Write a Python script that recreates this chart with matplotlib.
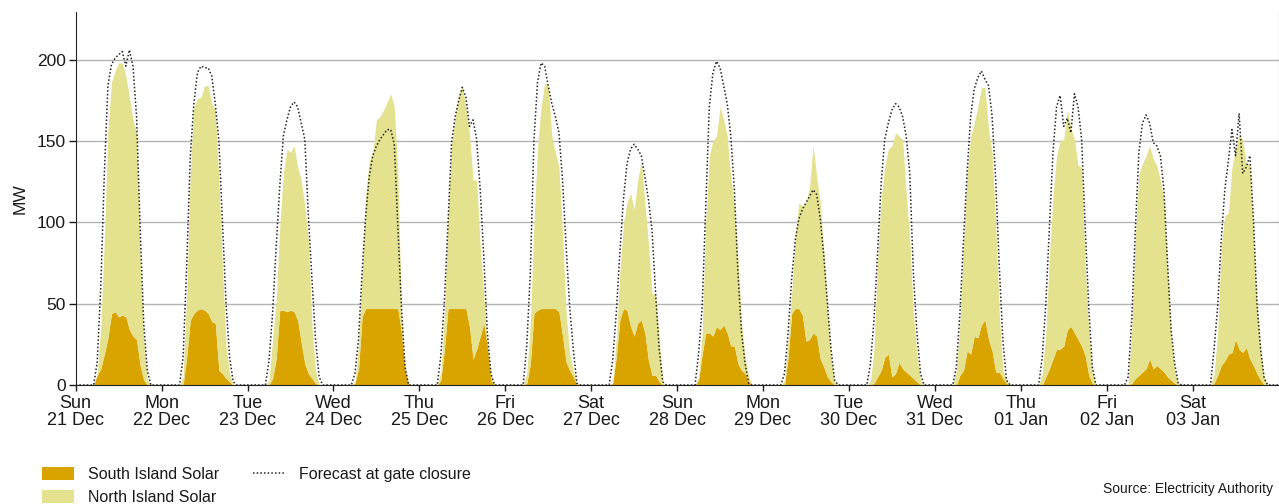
import matplotlib
matplotlib.use("Agg")
import matplotlib.pyplot as plt
import matplotlib.dates as mdates
import pandas as pd

plt.rcParams["font.family"] = ["Liberation Sans", "DejaVu Sans"]

# Solar generation, hourly values from 05:00 to 21:00 each day (MW)
days = pd.date_range("2025-12-21", periods=14, freq="D")
sun_hours = list(range(5, 22))

south_solar = [
    [0, 6, 10, 19, 29, 44, 45, 42, 43, 42, 34, 30, 28, 12, 3, 0, 0],
    [0, 0, 17, 40, 44, 46, 47, 46, 44, 39, 38, 9, 7, 4, 2, 0, 0],
    [0, 0, 4, 16, 46, 46, 45, 46, 45, 40, 26, 13, 7, 4, 1, 0, 0],
    [0, 1, 10, 42, 47, 47, 47, 47, 47, 47, 47, 47, 47, 47, 32, 10, 0],
    [0, 3, 22, 47, 47, 47, 47, 47, 47, 36, 16, 22, 30, 38, 24, 5, 0],
    [0, 1, 13, 44, 46, 47, 47, 47, 47, 47, 45, 30, 14, 9, 5, 0, 0],
    [0, 1, 17, 40, 47, 46, 36, 30, 38, 40, 32, 15, 6, 6, 2, 0, 0],
    [0, 3, 19, 32, 32, 30, 36, 34, 37, 32, 24, 24, 13, 9, 7, 2, 0],
    [0, 0, 17, 44, 47, 47, 43, 27, 28, 32, 30, 16, 11, 5, 2, 0, 0],
    [0, 0, 1, 5, 9, 17, 19, 5, 7, 14, 10, 8, 6, 4, 2, 0, 0],
    [0, 0, 6, 9, 21, 19, 30, 29, 37, 40, 28, 21, 8, 8, 4, 1, 0],
    [0, 0, 5, 10, 16, 22, 22, 24, 34, 36, 32, 28, 24, 18, 6, 1, 0],
    [0, 0, 1, 4, 6, 8, 10, 16, 10, 12, 10, 8, 5, 3, 1, 0, 0],
    [0, 1, 6, 12, 15, 19, 20, 28, 22, 20, 23, 16, 12, 7, 3, 0, 0],
]

# North + South combined (top of the stacked area)
total_solar = [
    [0, 7, 36, 89, 157, 186, 193, 198, 198, 190, 177, 163, 155, 79, 28, 3, 0],
    [0, 5, 56, 130, 171, 176, 177, 184, 184, 173, 169, 126, 73, 24, 7, 0, 0],
    [0, 3, 28, 52, 97, 130, 145, 143, 147, 134, 126, 110, 89, 36, 9, 0, 0],
    [0, 2, 24, 69, 116, 138, 143, 163, 165, 169, 174, 179, 171, 130, 44, 9, 0],
    [0, 8, 44, 106, 148, 165, 179, 184, 171, 155, 126, 126, 85, 56, 22, 2, 0],
    [0, 7, 38, 99, 145, 171, 186, 184, 153, 143, 134, 93, 44, 19, 9, 1, 0],
    [0, 1, 28, 69, 99, 112, 118, 108, 126, 138, 112, 87, 56, 56, 28, 1, 0],
    [0, 5, 32, 100, 141, 150, 153, 171, 163, 153, 128, 110, 77, 38, 17, 5, 0],
    [0, 3, 28, 56, 91, 112, 110, 112, 122, 147, 128, 112, 81, 48, 17, 2, 0],
    [0, 2, 22, 77, 114, 134, 145, 147, 155, 153, 151, 118, 89, 44, 19, 3, 0],
    [0, 9, 38, 87, 130, 153, 161, 171, 183, 183, 157, 143, 99, 44, 9, 3, 0],
    [0, 7, 32, 79, 116, 141, 150, 151, 169, 158, 151, 135, 134, 73, 34, 9, 0],
    [0, 1, 34, 91, 130, 136, 141, 147, 139, 135, 126, 114, 73, 30, 9, 1, 0],
    [0, 7, 32, 85, 104, 106, 134, 145, 154, 151, 136, 136, 93, 48, 22, 5, 0],
]

forecast_gate = [
    [0, 14, 60, 130, 184, 197, 201, 203, 205, 196, 206, 196, 165, 97, 38, 9, 0],
    [0, 17, 73, 140, 173, 192, 196, 195, 195, 190, 173, 150, 100, 50, 17, 2, 0],
    [0, 15, 44, 85, 122, 153, 163, 171, 174, 171, 161, 151, 104, 65, 28, 5, 0],
    [0, 7, 28, 69, 104, 128, 141, 147, 151, 154, 157, 157, 148, 97, 48, 11, 0],
    [0, 18, 52, 99, 149, 165, 175, 183, 177, 159, 163, 151, 120, 79, 32, 7, 0],
    [0, 24, 69, 150, 186, 198, 196, 184, 173, 165, 155, 126, 85, 48, 22, 1, 0],
    [0, 15, 44, 81, 114, 136, 145, 148, 145, 141, 128, 114, 95, 56, 22, 2, 0],
    [0, 19, 48, 110, 171, 192, 199, 195, 184, 173, 153, 120, 69, 32, 13, 1, 0],
    [0, 7, 32, 65, 89, 102, 108, 112, 116, 120, 117, 102, 79, 50, 22, 3, 0],
    [0, 13, 40, 81, 124, 151, 161, 169, 173, 171, 165, 153, 130, 69, 32, 7, 0],
    [0, 11, 44, 89, 130, 165, 182, 189, 193, 188, 184, 165, 126, 73, 28, 3, 0],
    [0, 17, 50, 97, 143, 171, 178, 159, 164, 155, 179, 171, 151, 97, 48, 11, 0],
    [0, 5, 40, 95, 143, 161, 166, 161, 149, 147, 141, 120, 75, 34, 13, 1, 0],
    [0, 22, 48, 89, 120, 138, 157, 141, 167, 130, 134, 141, 102, 50, 22, 4, 0],
]

SOUTH_COLOR = "#D9A300"
NORTH_COLOR = "#E4E28E"
TEXT_COLOR = "#1a1a1a"

timeline = pd.date_range(days[0], days[-1] + pd.Timedelta(hours=24), freq="h")


def hourly_series(rows):
    s = pd.Series(0.0, index=timeline)
    for day, row in zip(days, rows):
        for h, v in zip(sun_hours, row):
            s[day + pd.Timedelta(hours=h)] = v
    return s


south = hourly_series(south_solar)
total = hourly_series(total_solar)
forecast = hourly_series(forecast_gate)

fig = plt.figure(figsize=(12.79, 5.04), dpi=100)
ax = fig.add_axes([75.7 / 1279, 119 / 504, (1278.5 - 75.7) / 1279, (492 - 119) / 504])

x = timeline.to_pydatetime()
h_south = ax.fill_between(x, 0, south.values, color=SOUTH_COLOR, lw=0,
                          label="South Island Solar", zorder=2)
h_north = ax.fill_between(x, south.values, total.values, color=NORTH_COLOR, lw=0,
                          label="North Island Solar", zorder=2)
(h_fc,) = ax.plot(x, forecast.values, color="#222222", lw=1.1,
                  ls=(0, (1, 1.4)), label="Forecast at gate closure", zorder=3)

ax.set_xlim(timeline[0], timeline[-1])
ax.set_ylim(0, 229.3)
ax.set_yticks([0, 50, 100, 150, 200])
ax.yaxis.grid(True, color="#b3b3b3", lw=1.0, zorder=0)
ax.set_axisbelow(True)

# one tick per day, labelled with weekday and date
ax.set_xticks(days.to_pydatetime())
ax.xaxis.set_major_formatter(mdates.DateFormatter("%a\n%d %b"))
ax.tick_params(axis="x", labelsize=13, length=4, width=1, colors=TEXT_COLOR, pad=3)
ax.tick_params(axis="y", labelsize=12.5, length=5, width=1, colors=TEXT_COLOR, pad=2)
for lbl in ax.get_xticklabels():
    lbl.set_linespacing(1.05)

ax.spines["top"].set_visible(False)
ax.spines["left"].set_color("#222222")
ax.spines["bottom"].set_color("#222222")
ax.spines["right"].set_color("#444444")
ax.spines["right"].set_linewidth(0.8)

ax.set_ylabel("MW", fontsize=12.5, color=TEXT_COLOR, labelpad=7)

fig.legend(handles=[h_south, h_north, h_fc], ncol=2, loc="upper left",
           bbox_to_anchor=(42 / 1279, 1 - 467 / 504), frameon=False,
           fontsize=11.5, handlelength=2.0, handleheight=0.85,
           handletextpad=0.9, columnspacing=2.1, labelspacing=0.5,
           borderpad=0, borderaxespad=0, labelcolor=TEXT_COLOR)

fig.text(1273 / 1279, 1 - 489 / 504, "Source: Electricity Authority",
         ha="right", va="center", fontsize=10, color=TEXT_COLOR)

fig.savefig("out.png", dpi=100)
